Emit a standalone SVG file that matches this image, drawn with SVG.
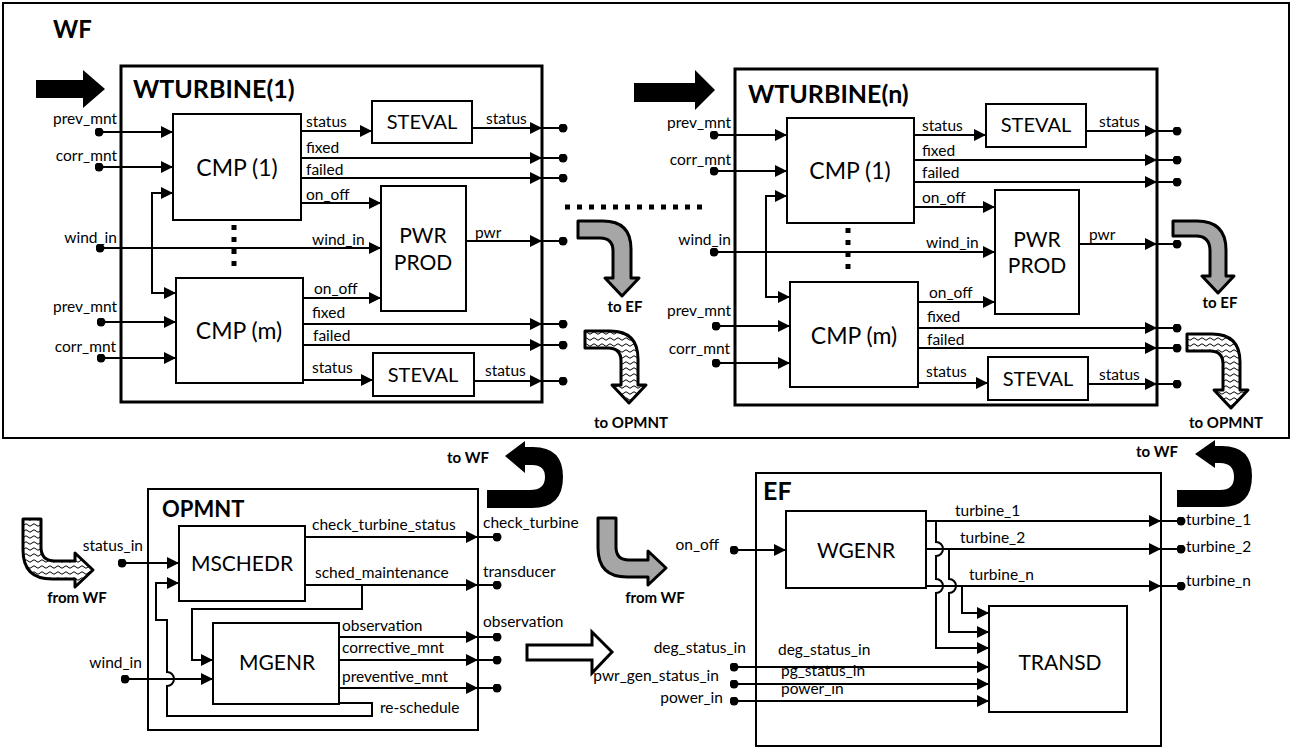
<svg xmlns="http://www.w3.org/2000/svg" width="1291" height="748" viewBox="0 0 1291 748">
<style>
text{font-family:Lato,"Liberation Sans",sans-serif;fill:#000}
.s{font-size:15.5px}
.b{font-size:21px;text-anchor:middle}
.cmp{font-size:23px}
.st{font-size:20px}
.t{font-weight:bold}
.sb{font-size:15px;font-weight:bold}
.e{text-anchor:end}
.m{text-anchor:middle}
.box{fill:#fff;stroke:#000;stroke-width:2}
.frame{fill:none;stroke:#000;stroke-width:3}
.c{fill:none;stroke:#000;stroke-width:2}
.in{marker-start:url(#dot);marker-end:url(#arr)}
.out{marker-mid:url(#arr);marker-end:url(#dot)}
.ar{marker-end:url(#arr)}
.dash{fill:none;stroke:#000;stroke-width:5;stroke-dasharray:5 7}
.gray{fill:#a6a6a6;stroke:#000;stroke-width:3;stroke-linejoin:round}
.wav{fill:url(#wave);stroke:#000;stroke-width:3;stroke-linejoin:round}
</style>
<defs>
<marker id="arr" viewBox="0 0 12 12" refX="12" refY="6" markerWidth="12" markerHeight="12" markerUnits="userSpaceOnUse" orient="auto-start-reverse"><path d="M0 0 L12 6 L0 12 Z"/></marker>
<marker id="dot" viewBox="0 0 10 10" refX="5" refY="5" markerWidth="9" markerHeight="9" markerUnits="userSpaceOnUse"><circle cx="5" cy="5" r="5"/></marker>
<pattern id="wave" width="8" height="6" patternUnits="userSpaceOnUse"><rect width="8" height="6" fill="#fff"/><path d="M0 3 Q2 0.5 4 3 T8 3" fill="none" stroke="#000" stroke-width="1"/></pattern>
</defs>

<g id="WF">
<rect x="3" y="3" width="1286" height="435" fill="none" stroke="#000" stroke-width="2"/>
<text x="53" y="38" class="t" font-size="24">WF</text>
<path d="M36 80 H83 V70 L105 89 L83 108 V98 H36 Z"/>
<path d="M634 83 H695 V70 L715 90 L695 110 V102 H634 Z"/>
<path class="dash" d="M565 207 H702"/>
<path class="gray" d="M578 221 H603 Q631 221 631 249 V278 H639 L622 296 L605 278 H613 V251 Q613 238 600 238 H578 Z"/>
<text x="625" y="312" class="sb m">to  EF</text>
<path class="wav" d="M585 331 H610 Q638 331 638 359 V385 H646 L629 403 L612 385 H621 V361 Q621 348 608 348 H585 Z"/>
<text x="631" y="428" class="sb m">to OPMNT</text>
<path class="gray" d="M1173 221 H1197 Q1226 221 1226 250 V276 H1234 L1218 293 L1202 276 H1210 V251 Q1210 236 1196 236 H1173 Z"/>
<text x="1220" y="308" class="sb m">to  EF</text>
<path class="wav" d="M1187 334 H1212 Q1240 334 1240 362 V390 H1248 L1231 408 L1214 390 H1223 V364 Q1223 351 1210 351 H1187 Z"/>
<text x="1226" y="428" class="sb m">to OPMNT</text>
</g>

<g id="WTURBINE1">
<rect x="121" y="66" width="421" height="336" class="frame"/>
<text x="133" y="98" class="t" font-size="25">WTURBINE(1)</text>
<g id="CMP1_1"><rect x="173" y="114" width="128" height="106" class="box"/><text x="237" y="176" class="b cmp">CMP (1)</text></g>
<g id="CMPm_1"><rect x="176" y="278" width="127" height="105" class="box"/><text x="239" y="339" class="b cmp">CMP (m)</text></g>
<g id="STEVAL1a"><rect x="372" y="101" width="100" height="42" class="box"/><text x="422" y="129" class="b st">STEVAL</text></g>
<g id="PWRPROD1"><rect x="381" y="186" width="85" height="125" class="box"/><text x="423" y="243" class="b">PWR</text><text x="423" y="270" class="b">PROD</text></g>
<g id="STEVAL1b"><rect x="373" y="353" width="101" height="43" class="box"/><text x="423" y="382" class="b st">STEVAL</text></g>
<path class="dash" d="M234 225 V272"/>
</g>

<g id="WTURBINEn">
<rect x="735" y="69" width="422" height="336" class="frame"/>
<text x="748" y="103" class="t" font-size="25">WTURBINE(n)</text>
<g id="CMP1_n"><rect x="787" y="118" width="127" height="105" class="box"/><text x="850" y="179" class="b cmp">CMP (1)</text></g>
<g id="CMPm_n"><rect x="790" y="282" width="128" height="105" class="box"/><text x="854" y="344" class="b cmp">CMP (m)</text></g>
<g id="STEVALna"><rect x="986" y="104" width="100" height="43" class="box"/><text x="1036" y="132" class="b st">STEVAL</text></g>
<g id="PWRPRODn"><rect x="995" y="190" width="84" height="124" class="box"/><text x="1037" y="247" class="b">PWR</text><text x="1037" y="273" class="b">PROD</text></g>
<g id="STEVALnb"><rect x="988" y="357" width="100" height="43" class="box"/><text x="1038" y="386" class="b st">STEVAL</text></g>
<path class="dash" d="M848 228 V275"/>
</g>

<g id="OPMNT">
<rect x="148" y="489" width="330" height="241" class="box"/>
<text x="162" y="517" class="t" font-size="22">OPMNT</text>
<g id="MSCHEDR"><rect x="179" y="526" width="126" height="75" class="box"/><text x="242" y="571" class="b" font-size="19.5">MSCHEDR</text></g>
<g id="MGENR"><rect x="213" y="623" width="126" height="81" class="box"/><text x="277" y="670" class="b" font-size="20">MGENR</text></g>
<path d="M487 490 H530 Q545 490 545 477 Q545 465 532 465 H525 V473 L505 456 L525 441 V447 H533 Q563 447 563 477 Q563 508 532 508 H487 Z"/>
<text x="468" y="463" class="sb m">to WF</text>
<path class="wav" d="M23 519 H41 V547 Q41 561 55 561 H75 V553 L93 570 L75 587 V579 H52 Q23 579 23 550 Z"/>
<text x="77" y="603" class="sb m">from WF</text>
<path d="M527 645 H592 V632 L612 652 L592 673 V660 H527 Z" fill="#fff" stroke="#000" stroke-width="3" stroke-linejoin="miter"/>
</g>

<g id="EF">
<rect x="756" y="473" width="405" height="273" class="box"/>
<text x="763" y="500" class="t" font-size="25">EF</text>
<g id="WGENR"><rect x="786" y="511" width="140" height="77" class="box"/><text x="856" y="558" class="b" font-size="20.5">WGENR</text></g>
<g id="TRANSD"><rect x="989" y="606" width="138" height="106" class="box"/><text x="1060" y="670" class="b" font-size="20.5">TRANSD</text></g>
<path class="gray" d="M598 518 H616 V547 Q616 560 629 560 H648 V551 L666 568 L648 585 V577 H627 Q598 577 598 548 Z"/>
<text x="655" y="603" class="sb m">from WF</text>
<path d="M1177 490 H1220 Q1234 490 1234 477 Q1234 463 1220 463 H1215 V468 L1195 454 L1215 440 V446 H1222 Q1252 446 1252 476 Q1252 507 1222 507 H1177 Z"/>
<text x="1157" y="457" class="sb m">to WF</text>
</g>

<g id="connectors">
<path class="c in" d="M99 132 H173"/>
<path class="c in" d="M99 167 H173"/>
<path class="c in" d="M100 248 H381"/>
<path class="c" d="M173 193 H152 V293 H176" marker-start="url(#arr)" marker-end="url(#arr)"/>
<path class="c in" d="M101 322 H176"/>
<path class="c in" d="M101 358 H176"/>
<path class="c ar" d="M301 131 H372"/>
<path class="c out" d="M301 158 H542 H563"/>
<path class="c out" d="M301 178 H542 H563"/>
<path class="c ar" d="M301 203 H381"/>
<path class="c out" d="M472 128 H542 H563"/>
<path class="c out" d="M466 241 H542 H563"/>
<path class="c ar" d="M303 298 H381"/>
<path class="c out" d="M303 324 H542 H563"/>
<path class="c out" d="M303 345 H542 H563"/>
<path class="c ar" d="M303 380 H373"/>
<path class="c out" d="M474 381 H542 H563"/>
<path class="c in" d="M714 135 H787"/>
<path class="c in" d="M714 171 H787"/>
<path class="c in" d="M714 252 H995"/>
<path class="c" d="M787 196 H766 V297 H790" marker-start="url(#arr)" marker-end="url(#arr)"/>
<path class="c in" d="M716 326 H790"/>
<path class="c in" d="M716 363 H790"/>
<path class="c ar" d="M914 135 H986"/>
<path class="c out" d="M914 160 H1157 H1177"/>
<path class="c out" d="M914 182 H1157 H1177"/>
<path class="c ar" d="M914 207 H995"/>
<path class="c out" d="M1086 131 H1157 H1177"/>
<path class="c out" d="M1079 244 H1157 H1177"/>
<path class="c ar" d="M918 302 H995"/>
<path class="c out" d="M918 328 H1157 H1177"/>
<path class="c out" d="M918 348 H1157 H1177"/>
<path class="c ar" d="M918 383 H988"/>
<path class="c out" d="M1088 384 H1157 H1177"/>
<path class="c in" d="M122 563 H179"/>
<path class="c in" d="M125 679 H213"/>
<path class="c out" d="M305 537 H478 H497"/>
<path class="c out" d="M305 585 H478 H497"/>
<path class="c ar" d="M362 585 V609 H192 V660 H213"/>
<path class="c out" d="M339 637 H478 H497"/>
<path class="c out" d="M339 660 H478 H497"/>
<path class="c out" d="M339 688 H478 H497"/>
<path class="c ar" d="M339 703 H372 V716 H167 V686 A7 7 0 0 0 167 672 V620 H156 V583 H179"/>
<path class="c in" d="M734 550 H786"/>
<path class="c out" d="M926 521 H1161 H1181"/>
<path class="c out" d="M926 549 H1161 H1181"/>
<path class="c out" d="M926 586 H1161 H1181"/>
<path class="c ar" d="M936 521 V542 A7 7 0 0 1 936 556 V579 A7 7 0 0 1 936 593 V648 H989"/>
<path class="c ar" d="M949 549 V579 A7 7 0 0 1 949 593 V632 H989"/>
<path class="c ar" d="M962 586 V613 H989"/>
<path class="c in" d="M734 667 H989"/>
<path class="c in" d="M734 684 H989"/>
<path class="c in" d="M734 701 H989"/>
</g>

<g id="labels" class="s">
<text x="117" y="124" class="e">prev_mnt</text>
<text x="117" y="161" class="e">corr_mnt</text>
<text x="117" y="243" class="e">wind_in</text>
<text x="117" y="312" class="e">prev_mnt</text>
<text x="116" y="352" class="e">corr_mnt</text>
<text x="306" y="127">status</text>
<text x="306" y="153">fixed</text>
<text x="306" y="175">failed</text>
<text x="306" y="200">on_off</text>
<text x="312" y="245">wind_in</text>
<text x="486" y="124">status</text>
<text x="475" y="238">pwr</text>
<text x="314" y="294">on_off</text>
<text x="312" y="318">fixed</text>
<text x="313" y="341">failed</text>
<text x="312" y="373">status</text>
<text x="485" y="376">status</text>

<text x="731" y="128" class="e">prev_mnt</text>
<text x="731" y="165" class="e">corr_mnt</text>
<text x="731" y="245" class="e">wind_in</text>
<text x="731" y="316" class="e">prev_mnt</text>
<text x="730" y="354" class="e">corr_mnt</text>
<text x="922" y="131">status</text>
<text x="922" y="156">fixed</text>
<text x="922" y="178">failed</text>
<text x="922" y="203">on_off</text>
<text x="926" y="248">wind_in</text>
<text x="1099" y="127">status</text>
<text x="1089" y="240">pwr</text>
<text x="929" y="298">on_off</text>
<text x="927" y="322">fixed</text>
<text x="927" y="345">failed</text>
<text x="926" y="377">status</text>
<text x="1099" y="380">status</text>

<text x="143" y="551" class="e">status_in</text>
<text x="142" y="668" class="e">wind_in</text>
<text x="312" y="530">check_turbine_status</text>
<text x="315" y="578">sched_maintenance</text>
<text x="342" y="631">observation</text>
<text x="342" y="653">corrective_mnt</text>
<text x="342" y="682">preventive_mnt</text>
<text x="380" y="713">re-schedule</text>
<text x="483" y="528">check_turbine</text>
<text x="483" y="577">transducer</text>
<text x="483" y="627">observation</text>

<text x="719" y="550" class="e">on_off</text>
<text x="955" y="516">turbine_1</text>
<text x="960" y="543">turbine_2</text>
<text x="969" y="580">turbine_n</text>
<text x="1186" y="525">turbine_1</text>
<text x="1186" y="552">turbine_2</text>
<text x="1186" y="586">turbine_n</text>
<text x="746" y="653" class="e">deg_status_in</text>
<text x="719" y="681" class="e">pwr_gen_status_in</text>
<text x="723" y="703" class="e">power_in</text>
<text x="778" y="655">deg_status_in</text>
<text x="781" y="676">pg_status_in</text>
<text x="781" y="694">power_in</text>
</g>
</svg>
